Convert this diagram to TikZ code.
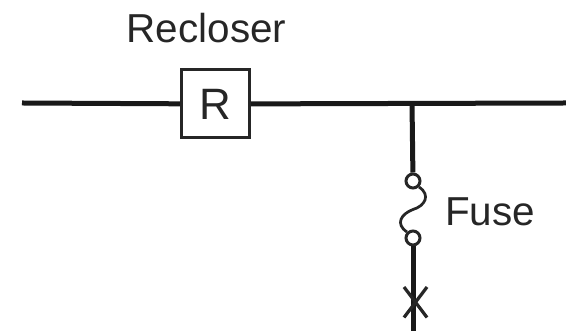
\documentclass[tikz,border=0pt]{standalone}
\usepackage{fontspec}
\setmainfont{Liberation Sans}
\tikzset{
	wire/.style={black!90, line width=0.1cm},
	thin wire/.style={black!85, line width=0.065cm},
	label text/.style={black!85, font=\fontsize{23}{27}\selectfont, inner sep=0pt}
}

\begin{document}
\begin{tikzpicture}[]
		\useasboundingbox (0,0) rectangle (11.32,6.62);

		%main line, left end -> right end, branch point on top of the fuse
		\coordinate (lineL) at (0.44,4.56);
		\coordinate (lineR) at (11.32,4.56);
		\coordinate (tap) at (8.24,4.56);
		\coordinate (branchEnd) at (8.26,0);

		\node[draw=black!85, fill=white, line width=0.06cm, minimum size=1.36cm, inner sep=0pt, font=\fontsize{25}{29}\selectfont, text=black!85] (recloser) at (4.31,4.54) {R};
		\draw[wire] (lineL) -- (recloser);
		\draw[wire] (recloser) -- (lineR);

		%fuse terminals, top and bottom
		\node[circle, draw=black!85, line width=0.06cm, minimum size=0.28cm, inner sep=0pt] (fuseT) at (8.26,3)  {};
		\node[circle, draw=black!85, line width=0.06cm, minimum size=0.28cm, inner sep=0pt] (fuseB) at (8.26,1.86) {};
		\draw[wire] (tap) -- (fuseT);
		\draw[wire] (fuseB) -- (branchEnd);
		\draw[black!85, line width=0.055cm] (fuseT.south east) .. controls (8.62,2.72) and (8.5,2.5) .. (8.26,2.43) .. controls (8.02,2.34) and (7.9,2.14) .. (fuseB.north west);

		%fault mark
		\coordinate (faultTL) at (8.08,0.88);
		\coordinate (faultBR) at (8.54,0.27);
		\coordinate (faultTR) at (8.54,0.88);
		\coordinate (faultBL) at (8.08,0.27);
		\draw[thin wire] (faultTL) -- (faultBR);
		\draw[thin wire] (faultTR) -- (faultBL);

		\node[label text] (recloserText) at (4.13,6.06) {Recloser};
		\node[label text] (fuseText) at (9.8,2.38) {Fuse};
	\end{tikzpicture}
\end{document}
